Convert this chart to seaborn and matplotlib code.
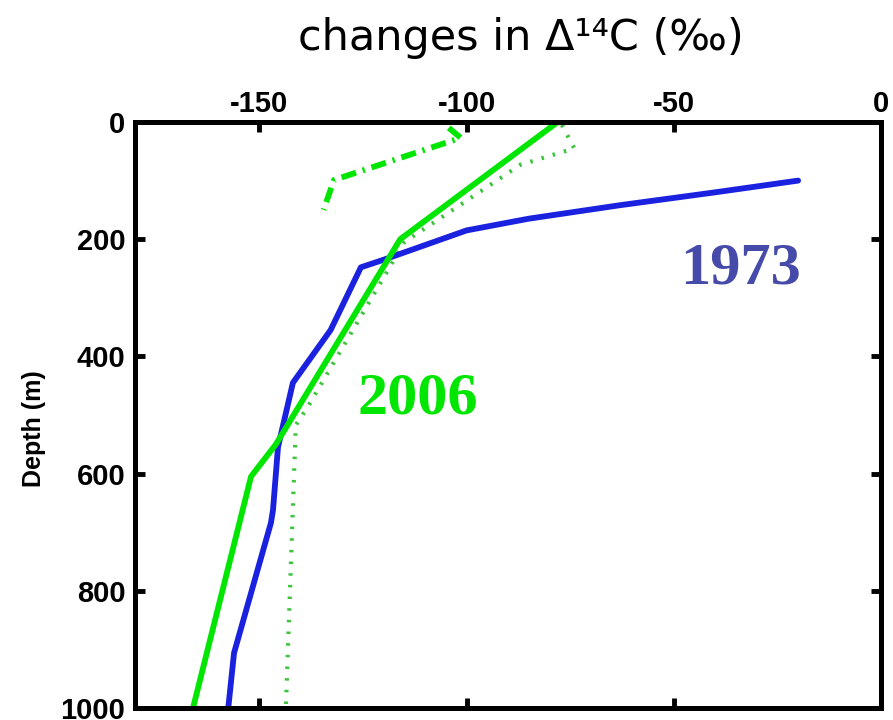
import matplotlib
matplotlib.use("Agg")
import matplotlib.pyplot as plt
import seaborn as sns
import pandas as pd

# Depth profiles of radiocarbon change (per mil) versus depth (m)
depth_1973 = [100, 120, 142, 165, 185, 235, 248, 355, 445, 555, 662, 684, 906, 1000]
dc14_1973 = [-20, -40, -63, -85, -100, -120, -125.5, -132.8, -141.9, -145.5, -146.7, -147.2, -156.1, -157.5]

depth_2006 = [0, 200, 550, 605, 1000]
dc14_2006 = [-78, -116, -146, -152, -166]

depth_dotted = [5, 45, 73, 205, 486, 517, 1000]
dc14_dotted = [-77, -74, -87, -115, -138.3, -141.2, -143.6]

depth_dashdot = [10, 27, 99, 150]
dc14_dashdot = [-104.3, -101.4, -132, -134.5]

x_ticks = [-150, -100, -50, 0]
y_ticks = [0, 200, 400, 600, 800, 1000]

sns.set_theme(style="white")
plt.rcParams["font.family"] = ["DejaVu Sans"]
plt.rcParams["text.color"] = "black"
plt.rcParams["xtick.color"] = "black"
plt.rcParams["ytick.color"] = "black"

BLUE = "#1a22e0"
GREEN = "#00e600"
GREEN_DOT = "#3cc43c"

fig = plt.figure(figsize=(8.93, 7.2), dpi=100)
ax = fig.add_axes([135 / 893, 1 - 708 / 720, (881 - 135) / 893, (708 - 122) / 720])

def profile(x, y, **kw):
    df = pd.DataFrame({"dc14": x, "depth": y})
    sns.lineplot(data=df, x="dc14", y="depth", sort=False, estimator=None, ax=ax, **kw)

# short thick dashes read as small cross-ticks along the path
profile(dc14_dotted, depth_dotted, color=GREEN_DOT, linewidth=3.0,
        linestyle=(0, (0.6, 2.2)), dash_capstyle="butt")
profile(dc14_dashdot, depth_dashdot, color=GREEN, linewidth=4.2,
        linestyle=(0, (2.6, 1.2, 0.4, 1.2)))
profile(dc14_1973, depth_1973, color=BLUE, linewidth=4.2)
profile(dc14_2006, depth_2006, color=GREEN, linewidth=4.2)

ax.set_xlim(-180, 0)
ax.set_ylim(1000, 0)
ax.set_xticks(x_ticks)
ax.set_yticks(y_ticks)
ax.set_xticklabels([f"{t:d}" for t in x_ticks], fontfamily="Liberation Sans",
                   fontweight="bold", fontsize=21, color="black")
ax.set_yticklabels([f"{t:d}" for t in y_ticks], fontfamily="Liberation Sans",
                   fontweight="bold", fontsize=21, color="black")
ax.tick_params(axis="both", direction="in", length=7, width=3.5, color="black",
               top=True, right=True, bottom=True, left=True,
               labeltop=True, labelbottom=False)
ax.tick_params(axis="x", pad=3)
ax.tick_params(axis="y", pad=7)
for sp in ax.spines.values():
    sp.set_visible(True)
    sp.set_color("black")
    sp.set_linewidth(3.6)

ax.set_xlabel("")
ax.set_ylabel("")
ax.grid(False)

fig.text(34 / 893, 1 - 429 / 720, "Depth (m)", rotation=90, ha="center", va="center",
         fontfamily="Liberation Sans", fontweight="bold", fontsize=18, color="black")
fig.text(521 / 893, 1 - 50 / 720, "changes in Δ¹⁴C (‰)", ha="center", va="baseline",
         fontfamily="DejaVu Sans", fontsize=31, color="black")

ax.text(-34, 275, "1973", ha="center", va="baseline", color="#464baa",
        fontfamily="Liberation Serif", fontweight="bold", fontsize=43.5)
ax.text(-111.8, 497, "2006", ha="center", va="baseline", color=GREEN,
        fontfamily="Liberation Serif", fontweight="bold", fontsize=43.5)

fig.savefig("out.png", dpi=100)
